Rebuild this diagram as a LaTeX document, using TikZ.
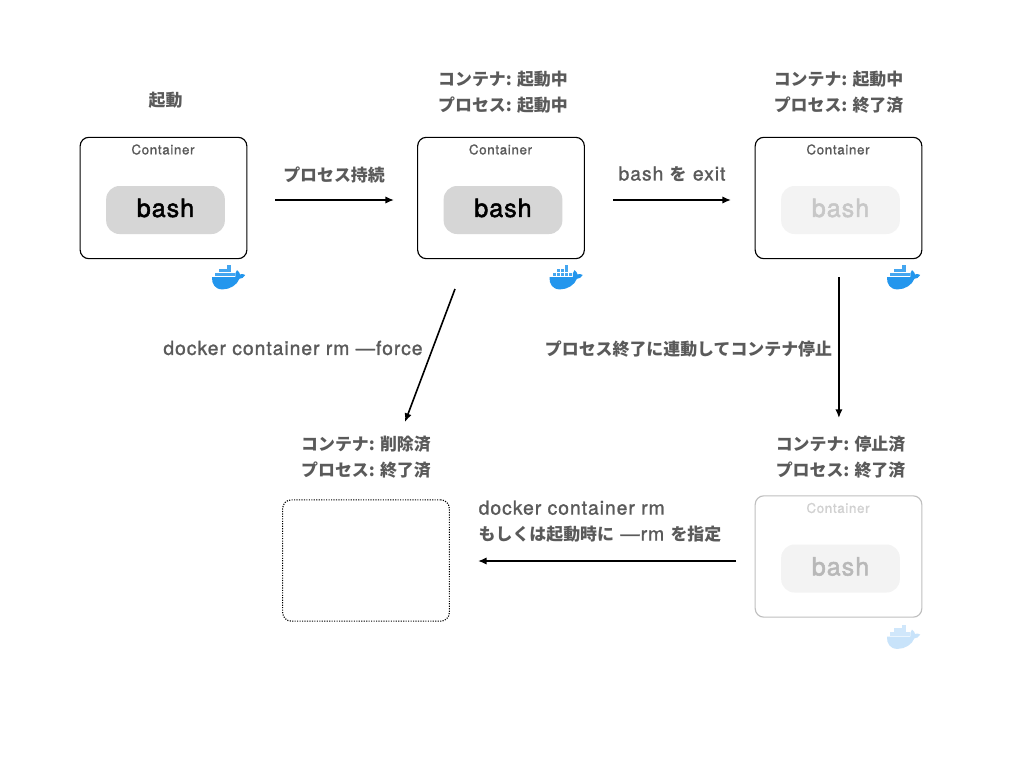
\documentclass[tikz,border=0pt]{standalone}
\usepackage{fontspec}
\usetikzlibrary{arrows.meta}
\setmainfont[LetterSpace=5,FakeBold=1.2]{TeX Gyre Heros}
\newfontfamily\bashfont[LetterSpace=4,FakeBold=2]{TeX Gyre Heros}
\newfontfamily\cjk[Scale=0.875]{Noto Sans CJK JP}
\newcommand{\J}[1]{{\cjk\bfseries #1}}
\definecolor{txt}{HTML}{5A5A5A}
\definecolor{dockerblue}{HTML}{2396ED}
\definecolor{dockerfade}{HTML}{C8E3FA}
\definecolor{bashfill}{HTML}{D6D6D6}
\definecolor{bashfade}{HTML}{F3F3F3}
\tikzset{
  conbox/.style={draw=#1, line width=0.85pt, rounded corners=6.5pt, minimum width=125pt, minimum height=91pt, inner sep=0pt, fill=white},
  bashbox/.style={fill=#1, rounded corners=10pt, minimum width=89pt, minimum height=36pt, inner sep=0pt},
  bashtext/.style={text=#1, font=\bashfont\fontsize{18.8}{20}\selectfont, inner sep=0pt},
  contitle/.style={text=#1, font=\fontsize{10}{11}\selectfont, inner sep=0pt},
  lab/.style={text=txt, font=\fontsize{14.5}{19.5}\selectfont, align=center, inner sep=0pt},
  arr/.style={-{Latex[length=6.5pt,width=5.5pt]}, line width=1.2pt, black},
}
% #1 name, #2 x, #3 y (centre, px), #4 border, #5 title colour, #6 box fill, #7 bash colour
\newcommand{\container}[7]{%
  \node[conbox=#4] (#1) at (#2,#3) {};
  \node[contitle=#5] (#1title) at (#2-0.5,#3-48.5) {Container};
  \node[bashbox=#6] (#1bash) at (#2+2,#3+12) {};
  \node[bashtext=#7] (#1text) at (#2+2,#3+10) {\vphantom{b}bash};
}
% #1 x, #2 y (top-left of the whale, px), #3 colour
\newcommand{\whale}[3]{%
  \begin{scope}[shift={(#1,#2)}]
    \fill[#3] (0,12) -- (23.3,12)
      .. controls (22.6,9.5) and (23.5,7) .. (25,5.2)
      .. controls (26.8,6.5) and (27.8,8) .. (28,9.4)
      .. controls (29.5,8.8) and (31.8,8.9) .. (33.2,10)
      .. controls (32,12.6) and (29.5,13.8) .. (27.4,13.8)
      .. controls (25,20) and (18,24.4) .. (10.5,24.4)
      .. controls (3,24.4) and (-0.4,19) .. (0,12) -- cycle;
    \foreach \bx/\by in {15.2/0.2,
        7.2/3.8, 11.2/3.8, 15.2/3.8,
        3.2/7.8, 7.2/7.8, 11.2/7.8, 15.2/7.8, 19.2/7.8}
      \fill[#3!85!white] (\bx,\by) rectangle +(3.6,3.6);
  \end{scope}
}
\begin{document}
\begin{tikzpicture}[x=0.75pt,y=-0.75pt]
\useasboundingbox (0,0) rectangle (1024,768);
\fill[white] (0,0) rectangle (1024,768);

\container{c1}{163.5}{198}{black}{txt}{bashfill}{black}
\container{c2}{501}{198}{black}{txt}{bashfill}{black}
\container{c3}{838.5}{198}{black}{txt}{bashfade}{black!22}
\container{c4}{838.5}{556.5}{black!25}{black!18}{bashfade}{black!28}

\node[draw=black, line width=0.85pt, densely dotted, rounded corners=6.5pt, minimum width=125pt, minimum height=91pt, inner sep=0pt] (c5) at (366,560.5) {};

\whale{212}{265}{dockerblue}
\whale{549.5}{265}{dockerblue}
\whale{887}{265}{dockerblue}
\whale{887}{624.5}{dockerfade}

\node[lab] (s1) at (165.5,100) {\J{起動}};
\node[lab] (s2) at (503,92) {\J{コンテナ: 起動中}\\\J{プロセス: 起動中}};
\node[lab] (s3) at (838.5,92) {\J{コンテナ: 起動中}\\\J{プロセス: 終了済}};
\node[lab] (s4) at (840.5,457) {\J{コンテナ: 停止済}\\\J{プロセス: 終了済}};
\node[lab] (s5) at (366,457) {\J{コンテナ: 削除済}\\\J{プロセス: 終了済}};

\node[lab] (l1) at (334,174.5) {\J{プロセス持続}};
\node[lab] (l2) at (672,174) {bash \J{を} exit};
\node[lab] (l3) at (293,348) {docker container rm —force};
\node[lab] (l4) at (688.5,349) {\J{プロセス終了に連動してコンテナ停止}};
\node[lab, align=left] (l5) at (600,521.5) {docker container rm\\\J{もしくは起動時に} —rm \J{を指定}};

\coordinate (a1s) at (275,200); \coordinate (a1e) at (394,200);
\coordinate (a2s) at (613,200); \coordinate (a2e) at (731,200);
\coordinate (a3s) at (838.9,277); \coordinate (a3e) at (838.9,418);
\coordinate (a4s) at (455,289); \coordinate (a4e) at (405,422);
\coordinate (a5s) at (736,561); \coordinate (a5e) at (478,561);
\draw[arr] (a1s) -- (a1e);
\draw[arr] (a2s) -- (a2e);
\draw[arr] (a3s) -- (a3e);
\draw[arr] (a4s) -- (a4e);
\draw[arr] (a5s) -- (a5e);
\end{tikzpicture}
\end{document}
